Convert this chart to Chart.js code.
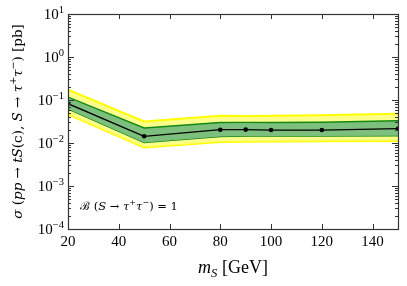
<!DOCTYPE html>
<html>
<head>
<meta charset="utf-8">
<script src="https://cdn.jsdelivr.net/npm/chart.js@4/dist/chart.umd.min.js"></script>
<style>
html,body{margin:0;padding:0;background:#fff;}
#wrap{width:407px;height:286px;}
</style>
</head>
<body>
<div id="wrap"><canvas id="c" width="407" height="286"></canvas></div>
<script>
// ---- data ----
const massGeV      = [20, 50, 80, 90, 100, 120, 150];
const xsCentral    = [0.082, 0.0143, 0.0204, 0.0205, 0.0200, 0.0200, 0.0215];
const xsGreenUp    = [0.117, 0.0224, 0.0300, 0.0302, 0.0300, 0.0305, 0.0330];
const xsGreenDown  = [0.062, 0.0103, 0.0142, 0.0145, 0.0145, 0.0145, 0.0148];
const xsYellowUp   = [0.174, 0.0318, 0.0430, 0.0425, 0.0430, 0.0440, 0.0480];
const xsYellowDown = [0.046, 0.0079, 0.0105, 0.0107, 0.0108, 0.0110, 0.0112];

const xTickValues = [20, 40, 60, 80, 100, 120, 140];
const xTickLabels = ["20", "40", "60", "80", "100", "120", "140"];
const yTickValues = [1e-4, 1e-3, 1e-2, 1e-1, 1, 10];
const yTickExponents = ["−4", "−3", "−2", "−1", "0", "1"];

const xTitle = [["m", {it: true}], ["S", {it: true, sub: true}], [" [GeV]", {}]];
const yTitle = [["σ", {it: true}], [" (", {}], ["pp", {it: true}], [" → ", {}], ["tS", {it: true}], ["(c), ", {}],
                ["S", {it: true}], [" → ", {}], ["τ", {it: true}], ["+", {sup: true}], ["τ", {it: true}], ["−", {sup: true}], [") [pb]", {}]];
const noteText = [["ℬ", {}], [" (", {}], ["S", {it: true}], [" → ", {}], ["τ", {it: true}], ["+", {sup: true}], ["τ", {it: true}], ["−", {sup: true}], [") = 1", {}]];

const SERIF = '"Liberation Serif", "DejaVu Serif", serif';
const DSERIF = '"DejaVu Serif", serif';

function toPts(ys) { return massGeV.map((m, i) => ({x: m, y: ys[i]})); }

function segFont(o, size, fam) {
  const s = (o.sup || o.sub) ? size * 0.7 : size;
  return (o.it ? 'italic ' : '') + s + 'px ' + fam;
}
function drawRich(ctx, segs, x, y, size, align, fam) {
  fam = fam || SERIF;
  let w = 0;
  for (const [t, o] of segs) { ctx.font = segFont(o, size, fam); w += ctx.measureText(t).width; }
  let cx = align === 'center' ? x - w / 2 : (align === 'right' ? x - w : x);
  ctx.textBaseline = 'alphabetic';
  ctx.textAlign = 'left';
  for (const [t, o] of segs) {
    ctx.font = segFont(o, size, fam);
    let dy = 0;
    if (o.sup) dy = -size * 0.42;
    if (o.sub) dy = size * 0.22;
    ctx.fillText(t, cx, y + dy);
    cx += ctx.measureText(t).width;
  }
}

const decor = {
  id: 'decor',
  afterDraw(chart) {
    const ctx = chart.ctx;
    const a = chart.chartArea;
    const xs = chart.scales.x, ys = chart.scales.y;
    ctx.save();
    ctx.fillStyle = '#000';
    ctx.strokeStyle = '#333';
    ctx.lineWidth = 1;
    // inward ticks
    ctx.beginPath();
    for (const v of xTickValues) {
      const px = Math.round(xs.getPixelForValue(v)) + 0.5;
      ctx.moveTo(px, a.bottom); ctx.lineTo(px, a.bottom - 5);
      ctx.moveTo(px, a.top); ctx.lineTo(px, a.top + 5);
    }
    for (let e = -4; e <= 0; e++) {
      for (let k = 1; k <= 9; k++) {
        const v = k * Math.pow(10, e);
        const py = Math.round(ys.getPixelForValue(v)) + 0.5;
        const len = (k === 1) ? 6 : 3;
        ctx.moveTo(a.left, py); ctx.lineTo(a.left + len, py);
        ctx.moveTo(a.right, py); ctx.lineTo(a.right - len, py);
      }
    }
    ctx.stroke();
    // frame
    ctx.lineWidth = 1.2;
    ctx.strokeRect(Math.round(a.left) + 0.5, Math.round(a.top) + 0.5, Math.round(a.right - a.left), Math.round(a.bottom - a.top));
    // y tick labels with superscripts
    yTickValues.forEach((v, i) => {
      const py = ys.getPixelForValue(v);
      drawRich(ctx, [["10", {}], [yTickExponents[i], {sup: true}]], a.left - 4, py + 5, 15, 'right');
    });
    // x title
    drawRich(ctx, xTitle, (a.left + a.right) / 2, 273, 18, 'center');
    // y title (rotated)
    ctx.save();
    ctx.translate(22, (a.top + a.bottom) / 2);
    ctx.rotate(-Math.PI / 2);
    drawRich(ctx, yTitle, 0, 0, 13.5, 'center', DSERIF);
    ctx.restore();
    // annotation
    drawRich(ctx, noteText, 80, 210, 11.5, 'left', DSERIF);
    ctx.restore();
  }
};

new Chart(document.getElementById('c'), {
  type: 'line',
  data: {
    datasets: [
      {label: 'central', data: toPts(xsCentral), borderColor: '#000', backgroundColor: '#000',
       borderWidth: 1.3, pointRadius: 2.3, pointBackgroundColor: '#000', pointBorderWidth: 0, fill: false, order: 0},
      {label: 'green up', data: toPts(xsGreenUp), borderColor: '#128a12', borderWidth: 1.4, pointRadius: 0,
       backgroundColor: '#7dbf7d', fill: '+1', order: 1},
      {label: 'green down', data: toPts(xsGreenDown), borderColor: '#128a12', borderWidth: 1.4, pointRadius: 0, fill: false, order: 1},
      {label: 'yellow up', data: toPts(xsYellowUp), borderColor: '#ffff00', borderWidth: 2, pointRadius: 0,
       backgroundColor: 'rgba(255,255,90,0.7)', fill: '+1', order: 2},
      {label: 'yellow down', data: toPts(xsYellowDown), borderColor: '#ffff00', borderWidth: 2, pointRadius: 0, fill: false, order: 2}
    ]
  },
  options: {
    responsive: false,
    animation: false,
    events: [],
    layout: {padding: {left: 0, right: 9, top: 14, bottom: 0}},
    elements: {line: {tension: 0}},
    plugins: {legend: {display: false}, tooltip: {enabled: false}, filler: {propagate: false}},
    scales: {
      x: {
        type: 'linear', min: 20, max: 150,
        afterBuildTicks: (s) => { s.ticks = xTickValues.map(v => ({value: v})); },
        afterFit: (s) => { s.height = 57; },
        grid: {display: false, drawTicks: false},
        border: {display: false},
        ticks: {
          padding: 4, color: '#000', maxRotation: 0, autoSkip: false,
          font: {family: SERIF, size: 15},
          callback: (v) => { const i = xTickValues.indexOf(v); return i >= 0 ? xTickLabels[i] : ''; }
        }
      },
      y: {
        type: 'logarithmic', min: 1e-4, max: 10,
        afterBuildTicks: (s) => { s.ticks = yTickValues.map(v => ({value: v})); },
        afterFit: (s) => { s.width = 68; },
        grid: {display: false, drawTicks: false},
        border: {display: false},
        ticks: {display: false}
      }
    }
  },
  plugins: [decor]
});
</script>
</body>
</html>
